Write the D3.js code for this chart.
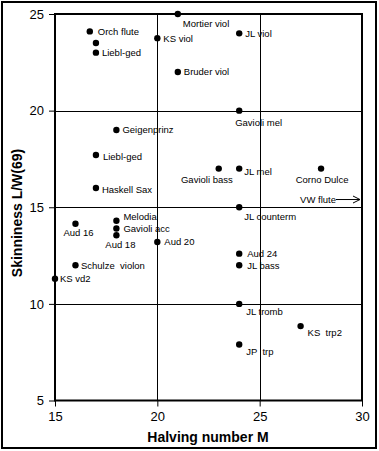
<!DOCTYPE html>
<html><head><meta charset="utf-8">
<script src="https://cdn.jsdelivr.net/npm/d3@7"></script>
<style>
html,body{margin:0;padding:0;background:#fff;}
svg{display:block;}
text{font-family:"Liberation Sans",Arial,sans-serif;}
</style></head>
<body>
<svg id="c" width="379" height="451"></svg>
<script>
// ---- data ----
const names = ["Mortier viol","Orch flute","KS viol","JL viol","","Liebl-ged","Bruder viol","Gavioli mel","Geigenprinz","Liebl-ged","Gavioli bass","JL mel","Corno Dulce","Haskell Sax","JL counterm","Melodia","Aud 16","Gavioli acc","Aud 18","Aud 20","Aud 24","JL bass","Schulze  violon","KS vd2","JL tromb","KS  trp2","JP  trp"];
const halvingM = [21,16.7,20,24,17,17,21,24,18,17,23,24,28,17,24,18,16,18,18,20,24,24,16,15,24,27,24];
const skinniness = [25,24.1,23.75,24,23.5,23,22,20,19,17.7,17,17,17,16,15,14.3,14.15,13.9,13.55,13.2,12.6,12,12,11.3,10,8.85,7.9];
const xTicks = [15,20,25,30];
const yTicks = [5,10,15,20,25];
const offscaleName = "VW flute";
const offscaleY = 15.4;
// label placement (layout only): [dx, dy, anchor]
const labelPlace = [[5,10,"start"],[8,0,"start"],[6,1,"start"],[6,0,"start"],[0,0,"start"],[6,0,"start"],[6,0,"start"],[-4,12,"start"],[6,0,"start"],[7,2,"start"],[14,11,"end"],[5,3,"start"],[1,11,"middle"],[6,1.5,"start"],[5,9.5,"start"],[7,-4,"start"],[3,8.5,"middle"],[7,0,"start"],[4,9,"middle"],[7,0,"start"],[8,0,"start"],[8,0,"start"],[5.5,0,"start"],[5,0,"start"],[7,8,"start"],[7,7,"start"],[7,7,"start"]];

const svg = d3.select("#c");
const L=55,R=362,T=14,B=400.5;
const x = d3.scaleLinear().domain([15,30]).range([L,R]);
const y = d3.scaleLinear().domain([5,25]).range([B,T]);

// outer frame
svg.append("rect").attr("x",2).attr("y",2).attr("width",374).attr("height",446)
  .attr("fill","none").attr("stroke","#000").attr("stroke-width",2);

// gridlines
svg.append("g").selectAll("line").data(xTicks.filter(d=>d>15&&d<30)).join("line")
  .attr("x1",d=>Math.round(x(d))+0.5).attr("x2",d=>Math.round(x(d))+0.5)
  .attr("y1",T).attr("y2",B).attr("stroke","#000").attr("stroke-width",1);
svg.append("g").selectAll("line").data(yTicks.filter(d=>d>5&&d<25)).join("line")
  .attr("y1",d=>Math.round(y(d))+0.5).attr("y2",d=>Math.round(y(d))+0.5)
  .attr("x1",L).attr("x2",R).attr("stroke","#000").attr("stroke-width",1);

// axes
const xAxis = d3.axisBottom(x).tickValues(xTicks).tickSize(6).tickPadding(5).tickFormat(d3.format("d"));
const yAxis = d3.axisLeft(y).tickValues(yTicks).tickSize(6).tickPadding(5).tickFormat(d3.format("d"));
const gx = svg.append("g").attr("transform",`translate(0,${B})`).call(xAxis);
const gy = svg.append("g").attr("transform",`translate(${L},0)`).call(yAxis);
[gx,gy].forEach(g=>{
  g.select(".domain").remove();
  g.selectAll("line").attr("stroke","#000").attr("stroke-width",1);
  g.selectAll("text").attr("font-size",13).attr("fill","#000")
   .attr("font-family","'Liberation Sans',Arial,sans-serif");
});

// plot border
svg.append("rect").attr("x",L).attr("y",T).attr("width",R-L).attr("height",B-T)
  .attr("fill","none").attr("stroke","#000").attr("stroke-width",2);

// points
const pts = names.map((n,i)=>({n,m:halvingM[i],s:skinniness[i],p:labelPlace[i]}));
svg.append("g").selectAll("circle").data(pts).join("circle")
  .attr("cx",d=>x(d.m)).attr("cy",d=>y(d.s)).attr("r",3.2).attr("fill","#000");
svg.append("g").selectAll("text").data(pts).join("text")
  .attr("x",d=>x(d.m)+d.p[0]).attr("y",d=>y(d.s)+d.p[1])
  .attr("dy","0.35em").attr("text-anchor",d=>d.p[2])
  .attr("font-size",9.5).attr("fill","#000").style("white-space","pre")
  .text(d=>d.n);

// off-scale annotation
const ay = y(offscaleY);
svg.append("text").attr("x",x(30)-26).attr("y",ay).attr("dy","0.35em")
  .attr("text-anchor","end").attr("font-size",9.5).text(offscaleName);
svg.append("line").attr("x1",x(30)-26).attr("x2",x(30)-2).attr("y1",ay).attr("y2",ay)
  .attr("stroke","#000").attr("stroke-width",1);
svg.append("path").attr("d",`M${x(30)-9},${ay-3.5} L${x(30)-2},${ay} L${x(30)-9},${ay+3.5}`)
  .attr("fill","none").attr("stroke","#000").attr("stroke-width",1);

// axis titles
svg.append("text").attr("x",208).attr("y",437).attr("dy","0.35em").attr("text-anchor","middle")
  .attr("font-size",14).attr("font-weight","bold").text("Halving number M");
svg.append("text").attr("transform","translate(17,213) rotate(-90)").attr("dy","0.35em")
  .attr("text-anchor","middle").attr("font-size",14).attr("font-weight","bold").text("Skinniness L/W(69)");
</script>
</body></html>
